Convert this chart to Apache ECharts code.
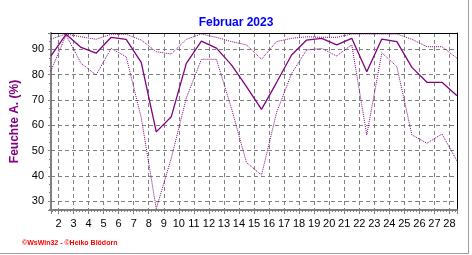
<!DOCTYPE html>
<html>
<head>
<meta charset="utf-8">
<script src="https://cdn.jsdelivr.net/npm/echarts@6/dist/echarts.min.js"></script>
<style>
html,body{margin:0;padding:0;background:#fff;}
#frame{position:absolute;left:0;top:0;width:468px;height:253px;border-right:1px solid #a0a0a0;border-bottom:1px solid #a0a0a0;}
#chart{position:absolute;left:0;top:0;width:472px;height:255px;}
</style>
</head>
<body>
<div id="frame"></div>
<div id="chart"></div>
<script>
// Days of February 2023 (values plotted at noon of each day)
const days = [1,2,3,4,5,6,7,8,9,10,11,12,13,14,15,16,17,18,19,20,21,22,23,24,25,26,27,28];
const humMax  = [94.1,96.1,95.0,94.0,96.0,96.0,93.7,89.1,88.2,94.0,96.1,94.8,93.1,91.8,86.1,93.1,94.4,95.0,94.8,94.8,96.1,96.1,96.1,96.1,94.0,91.1,91.1,86.5];
const humMean = [87.5,96.0,90.8,88.5,94.8,94.0,84.9,57.4,63.4,84.5,93.3,90.5,83.9,75.3,66.3,76.9,87.8,93.7,94.4,91.8,94.4,81.2,94.1,93.1,82.9,77.0,77.0,71.7];
const humMin  = [81.6,95.7,84.5,79.9,90.4,87.1,63.0,27.0,47.0,70.8,86.1,86.1,66.7,45.3,40.3,65.0,80.5,89.8,90.4,87.4,91.8,56.2,88.7,83.2,56.2,52.9,56.6,45.9];
const yTicks = [30,40,50,60,70,80,90];

const chart = echarts.init(document.getElementById('chart'), null, {renderer:'canvas'});
const toPts = arr => days.map((d,i)=>[d+0.5, arr[i]]);
const purple = '#800080';
const font = 'Arial, "Liberation Sans", sans-serif';

chart.setOption({
  animation:false,
  backgroundColor:'transparent',
  title:[
    {text:'Februar 2023', left:'center', top:12, textStyle:{color:'#0000ff', fontSize:12, fontWeight:'bold', fontFamily:font}},
    {text:'©WsWin32 - ©Heiko Blödorn', left:17, top:235, textStyle:{color:'#ff0000', fontSize:7, fontWeight:'bold', fontFamily:font}}
  ],
  grid:{left:51, top:33, right:15, bottom:45, containLabel:false},
  xAxis:[{
    type:'value', min:1.5, max:28.5, splitNumber:27, minInterval:1, maxInterval:1,
    axisLine:{show:true, onZero:false, lineStyle:{color:'#808080', width:2}},
    axisTick:{show:true, length:4, inside:false, lineStyle:{color:'#808080'}},
    minorTick:{show:true, splitNumber:5, length:2, lineStyle:{color:'#808080'}},
    axisLabel:{color:'#000', fontSize:11, fontFamily:font, margin:8,
      formatter:v=>Number.isInteger(v)?String(v):'' , showMinLabel:false, showMaxLabel:false},
    splitLine:{show:true, showMinLine:false, showMaxLine:false, lineStyle:{color:'#808080', type:[4,3], width:1}}
  },{
    type:'value', position:'top', min:1.5, max:28.5,
    axisLine:{show:true, onZero:false, lineStyle:{color:'#000', width:1}},
    axisTick:{show:false}, axisLabel:{show:false}, splitLine:{show:false}
  }],
  yAxis:[{
    type:'value', min:26.5, max:96.5, splitNumber:7, minInterval:10, maxInterval:10,
    name:'Feuchte A. (%)', nameLocation:'middle', nameGap:29, nameRotate:90,
    nameTextStyle:{color:purple, fontSize:12, fontWeight:'bold', fontFamily:font},
    axisLine:{show:true, onZero:false, lineStyle:{color:'#808080', width:2}},
    axisTick:{show:true, length:3, lineStyle:{color:'#808080'}},
    minorTick:{show:true, splitNumber:3, length:2, lineStyle:{color:'#808080'}},
    axisLabel:{color:'#000', fontSize:11, fontFamily:font, margin:7,
      formatter:v=>yTicks.includes(v)?String(v):'', showMinLabel:false, showMaxLabel:false},
    splitLine:{show:true, showMinLine:false, showMaxLine:false, lineStyle:{color:'#808080', type:[4,3], width:1}}
  },{
    type:'value', position:'right', min:26.5, max:96.5,
    axisLine:{show:true, onZero:false, lineStyle:{color:'#000', width:1}},
    axisTick:{show:false}, axisLabel:{show:false}, splitLine:{show:false}
  }],
  series:[
    {name:'Max', type:'line', data:toPts(humMax), showSymbol:false, symbol:'none',
     lineStyle:{color:purple, width:1, type:[1,1]}},
    {name:'Mittel', type:'line', data:toPts(humMean), showSymbol:false, symbol:'none',
     lineStyle:{color:purple, width:1.3}},
    {name:'Min', type:'line', data:toPts(humMin), showSymbol:false, symbol:'none',
     lineStyle:{color:purple, width:1, type:[1,1]}}
  ]
});
</script>
</body>
</html>
